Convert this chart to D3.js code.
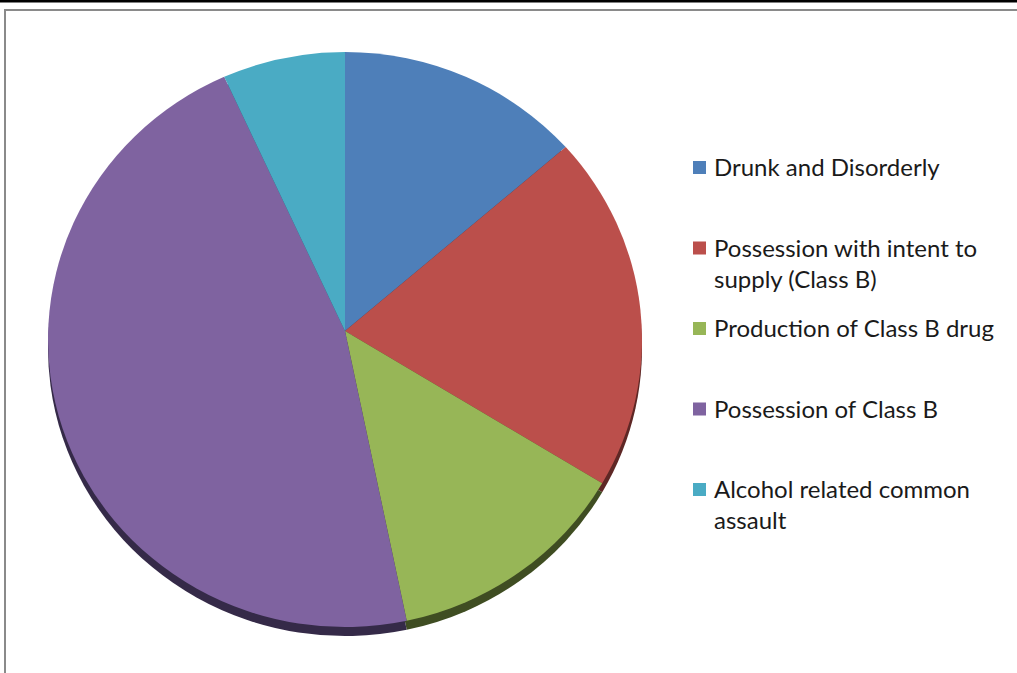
<!DOCTYPE html>
<meta charset="utf-8">
<style>
    body { margin: 0; background: #fff; }
    .legend text {
        font-family: Lato, sans-serif;
        font-size: 24px;
        fill: #1a1a1a;
    }
</style>

<svg width="1017" height="673"></svg>

<script src="https://cdn.jsdelivr.net/npm/d3@7"></script>

<script>
    // categories and counts
    var categories = [
        "Drunk and Disorderly",
        "Possession with intent to supply (Class B)",
        "Production of Class B drug",
        "Possession of Class B",
        "Alcohol related common assault"
    ];
    var counts = [2, 3, 2, 7, 1];
    // legend labels as they wrap in the picture
    var legendLines = [
        ["Drunk and Disorderly"],
        ["Possession with intent to", "supply (Class B)"],
        ["Production of Class B drug"],
        ["Possession of Class B"],
        ["Alcohol related common", "assault"]
    ];
    var faceColors = ["#4e7fb9", "#bb4f4b", "#97b657", "#7f63a0", "#4aabc4"];
    var sideColors = ["#26405e", "#5e2725", "#3f4d22", "#352a48", "#22576a"];

    (function () {
        var svg = d3.select("svg"),
            width = +svg.attr("width"),
            height = +svg.attr("height");

        // frame
        svg.append("rect").attr("x", 0).attr("y", 0)
            .attr("width", width).attr("height", 2.5).attr("fill", "#000");
        svg.append("path")
            .attr("d", "M5," + height + "V10H" + width)
            .attr("fill", "none").attr("stroke", "#8a8a8a").attr("stroke-width", 2);

        // slightly tilted pie: apex sits above the middle of the ellipse
        var apex = [345, 331],
            ell = {cx: 345, cy: 339.5, rx: 297, ry: 287.5},
            depth = 9;

        var pie = d3.pie().sort(null).value(function (d) { return d; });
        var arcs = pie(counts);

        function rim(a, dy) {
            return [ell.cx + ell.rx * Math.sin(a), ell.cy - ell.ry * Math.cos(a) + dy];
        }
        function slice(d, dy) {
            var p0 = rim(d.startAngle, dy), p1 = rim(d.endAngle, dy),
                large = (d.endAngle - d.startAngle) > Math.PI ? 1 : 0;
            return "M" + apex[0] + "," + (apex[1] + dy) +
                "L" + p0 + "A" + ell.rx + "," + ell.ry + " 0 " + large + " 1 " + p1 + "Z";
        }

        var pieG = svg.append("g");
        // side (depth) drawn first, shifted down
        pieG.selectAll("path.side")
            .data(arcs)
            .enter().append("path")
            .attr("class", "side")
            .attr("d", function (d) { return slice(d, depth); })
            .attr("fill", function (d, i) { return sideColors[i]; });
        pieG.selectAll("path.face")
            .data(arcs)
            .enter().append("path")
            .attr("class", "face")
            .attr("d", function (d) { return slice(d, 0); })
            .attr("fill", function (d, i) { return faceColors[i]; });

        // legend
        var y = d3.scalePoint().domain(categories).range([176, 498]);
        var legend = svg.append("g").attr("class", "legend")
            .selectAll("g")
            .data(categories)
            .enter().append("g")
            .attr("transform", function (d) { return "translate(693," + y(d) + ")"; });
        legend.append("rect")
            .attr("x", 0).attr("y", -15)
            .attr("width", 13).attr("height", 13)
            .attr("fill", function (d, i) { return faceColors[i]; });
        legend.append("text")
            .attr("x", 21)
            .selectAll("tspan")
            .data(function (d, i) { return legendLines[i]; })
            .enter().append("tspan")
            .attr("x", 21)
            .attr("y", function (d, j) { return j * 31; })
            .text(function (d) { return d; });
    })();
</script>
